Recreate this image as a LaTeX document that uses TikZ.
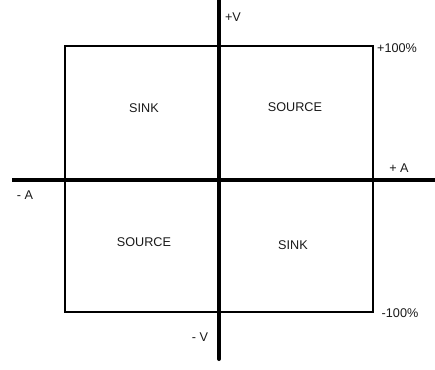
\documentclass[tikz,border=0pt]{standalone}
\usepackage{fontspec}
\setmainfont{Liberation Sans}
\begin{document}
\begin{tikzpicture}[x=0.25mm, y=-0.25mm, axis/.style={draw, line width=1mm}, quad/.style={draw, line width=0.5mm}, lbl/.style={font=\fontsize{9}{11}\selectfont, text=black!90, inner sep=0pt}]
    \useasboundingbox (0,0) rectangle (435,369);
    \coordinate (vt) at (219,0);
    \coordinate (vb) at (219,359);
    \coordinate (al) at (12,180);
    \coordinate (ar) at (435,180);
    \coordinate (tl) at (65,46);
    \coordinate (br) at (373,312);

    \draw[quad] (tl) rectangle (br);
    \draw[axis] (al) -- (ar);
    \draw[axis, line cap=round] (vt) -- (vb);

    \node[lbl] (pv) at (233,17) {+V};
    \node[lbl] (pc) at (397,48) {+100\%};
    \node[lbl] (sk1) at (144,108) {SINK};
    \node[lbl] (sr1) at (295,107) {SOURCE};
    \node[lbl] (pa) at (399,168) {+ A};
    \node[lbl] (ma) at (25,195) {- A};
    \node[lbl] (sr2) at (144,242) {SOURCE};
    \node[lbl] (sk2) at (293,245) {SINK};
    \node[lbl] (mc) at (400,313) {-100\%};
    \node[lbl] (mv) at (200,337) {- V};
\end{tikzpicture}
\end{document}
